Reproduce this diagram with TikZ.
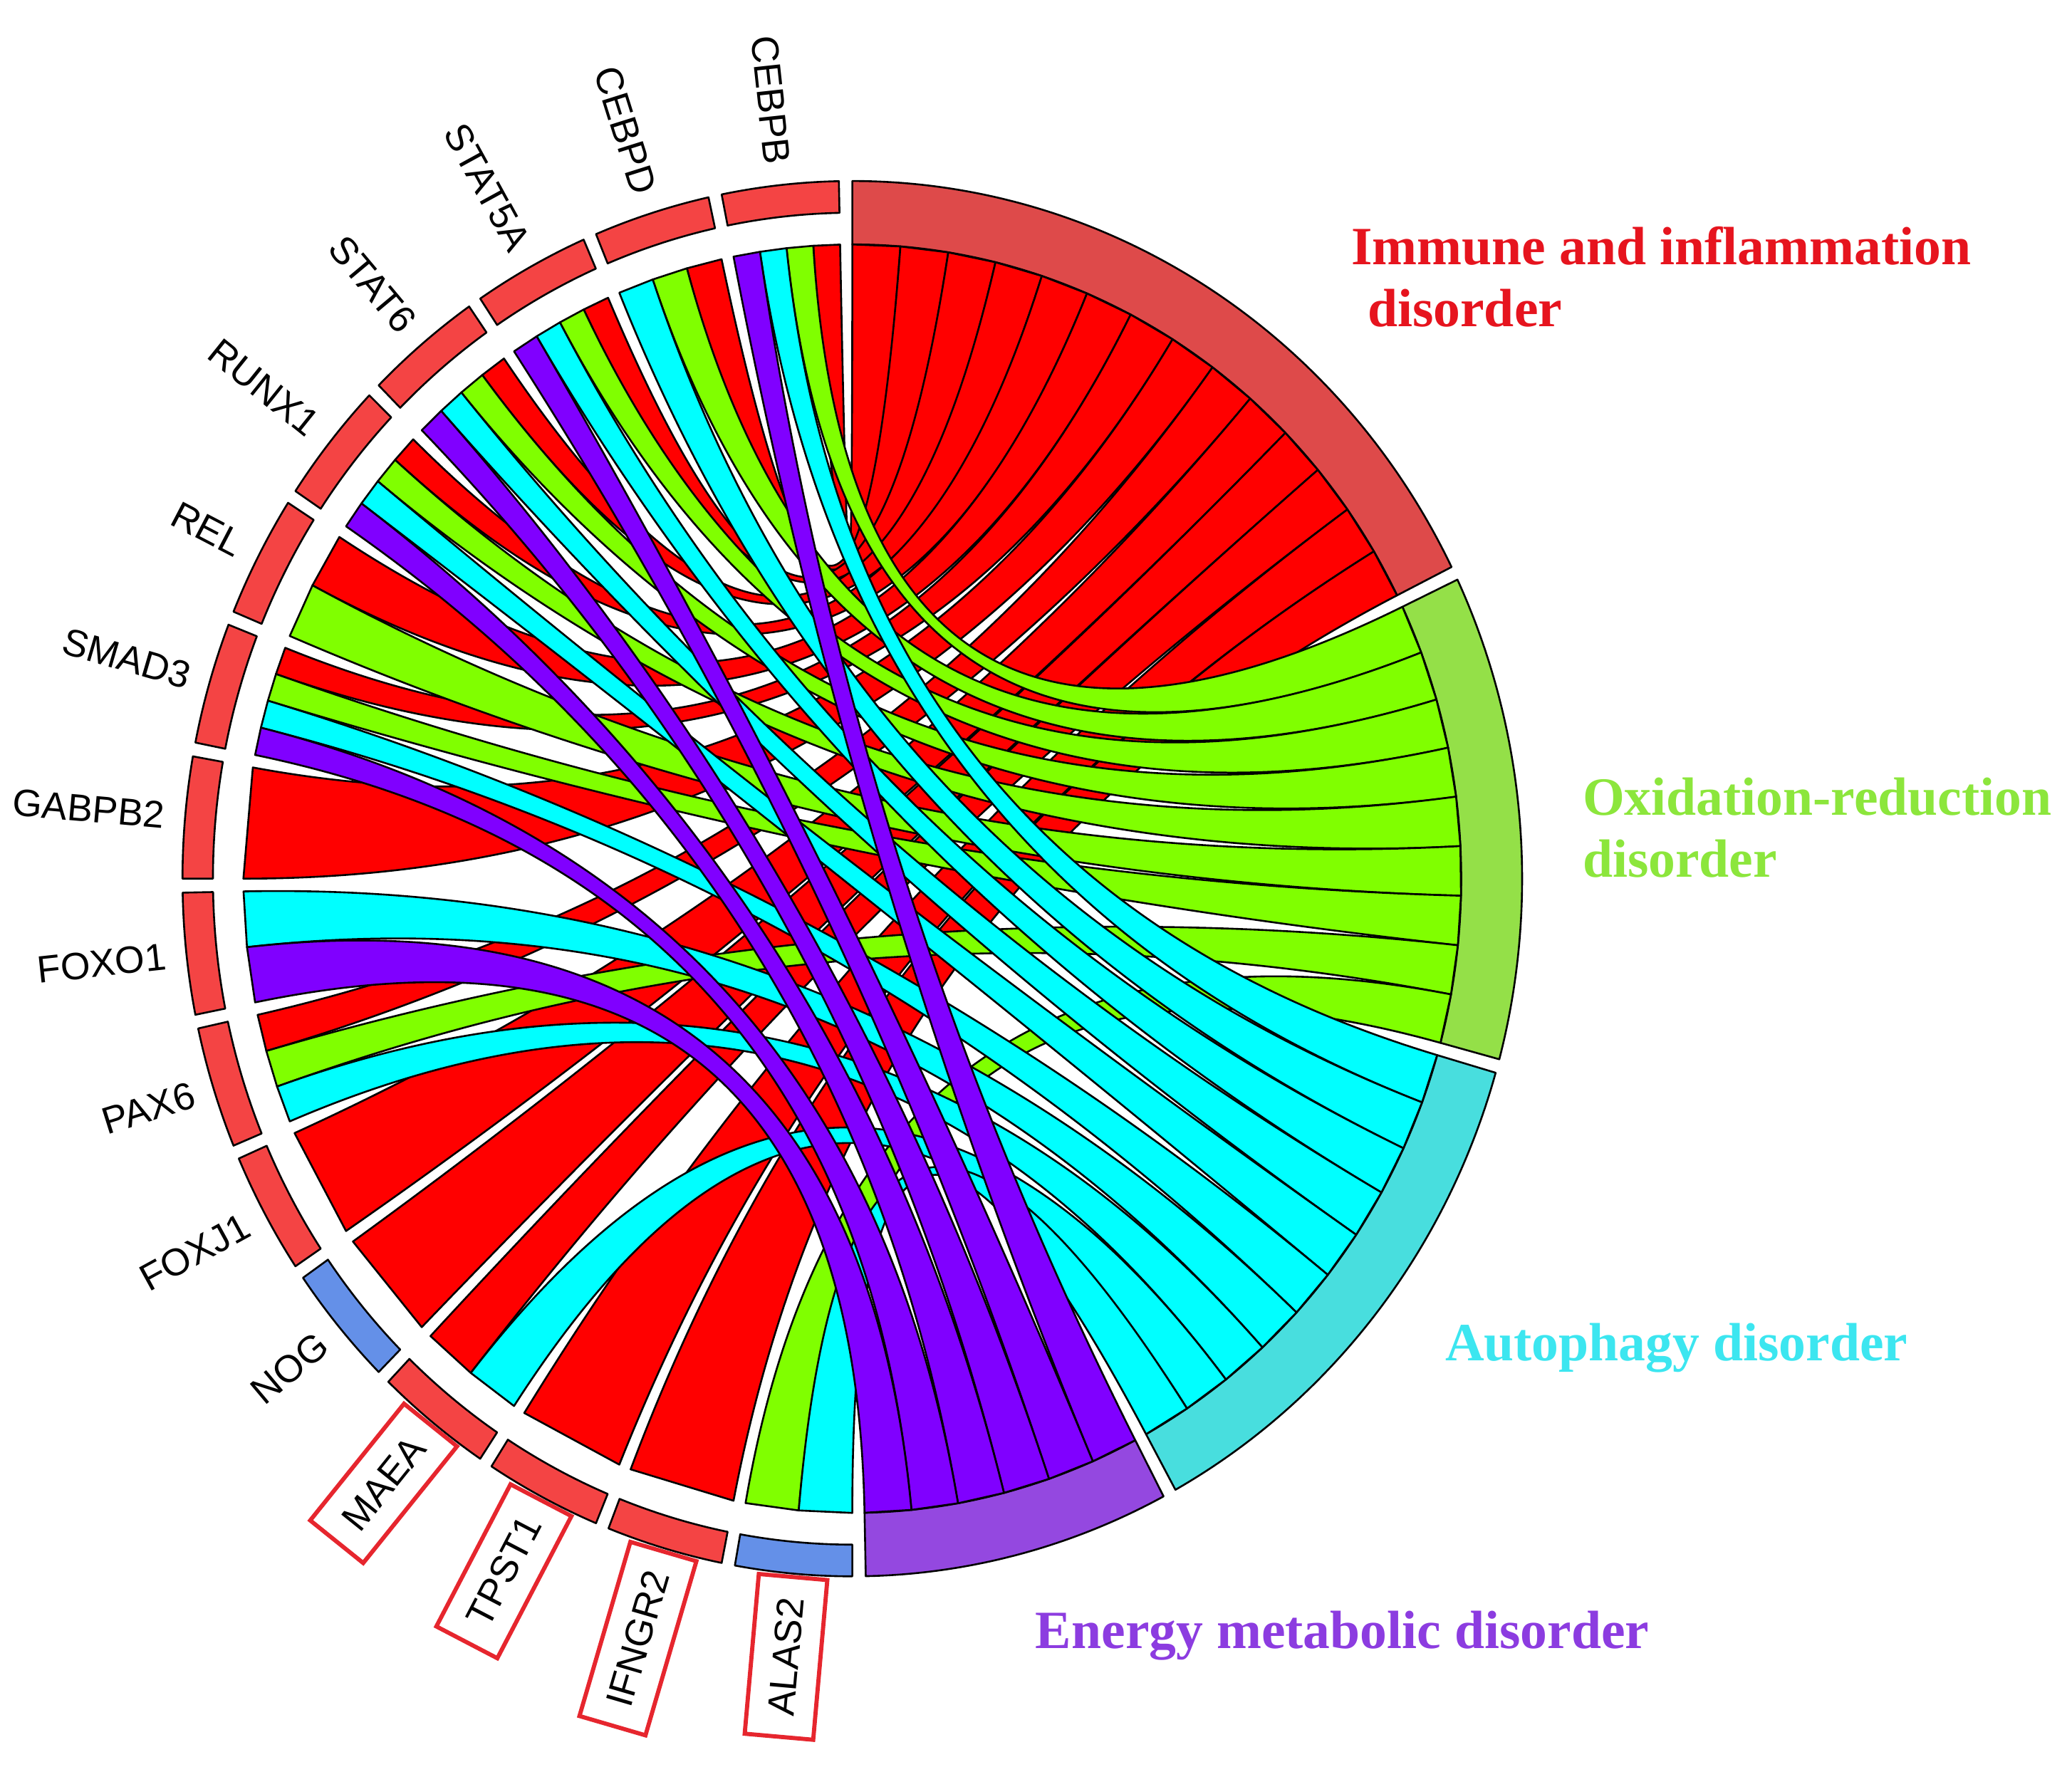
\documentclass[tikz,border=0pt]{standalone}
\usepackage{fontspec}
\setmainfont{Liberation Serif}
\setsansfont{Liberation Sans}
\usepackage{xcolor}
\definecolor{Chord Red}{HTML}{FF0000}
\definecolor{Chord Green}{HTML}{80FF00}
\definecolor{Chord Cyan}{HTML}{00FFFF}
\definecolor{Chord Violet}{HTML}{8000FF}
\colorlet{cImm}{Chord Red}
\colorlet{cOx}{Chord Green}
\colorlet{cAut}{Chord Cyan}
\colorlet{cEn}{Chord Violet}
\definecolor{sImm}{HTML}{DE4A4A}
\definecolor{sOx}{HTML}{94E048}
\definecolor{sAut}{HTML}{48DEDE}
\definecolor{sEn}{HTML}{9448E0}
\definecolor{cUp}{HTML}{F44444}
\definecolor{cDown}{HTML}{6490E8}
\definecolor{cBox}{HTML}{E6262E}
\definecolor{tImm}{HTML}{E6141E}
\definecolor{tOx}{HTML}{8CE63C}
\definecolor{tAut}{HTML}{3CE6F0}
\definecolor{tEn}{HTML}{8C3CE0}
\usepackage{tikz}
\usetikzlibrary{positioning}
\tikzset{
	line width = .6pt,
	ribbon/.style={
		draw=black,
		line join=round
	},
	segment/.style={
		draw=black,
		line join=round
	},
	genelabel/.style={
		font=\sffamily\fontsize{8.2}{9}\selectfont,
		anchor=east,
		inner sep=1pt,
		line width=.9pt
	},
	termlabel/.style={
		font=\rmfamily\bfseries\fontsize{11.6}{13.4}\selectfont,
		align=left,
		anchor=west,
		inner sep=0pt
	}
}
\def\rin{4.8cm}
\def\rgene{5.04cm}
\def\rout{5.28cm}
\def\rc{1.6cm}
\def\sgap{1.15}
% #1 colour, #2 first angle of the term, #3 band width on the term,
% #4 band number on the term, #5 gene number, #6 band on the gene, #7 bands of the gene
\newcommand{\chordband}[7]{%
	\pgfmathsetmacro\pa{#2-(#4-1)*#3}%
	\pgfmathsetmacro\pb{#2-#4*#3}%
	\pgfmathsetmacro\ga{90+\sgap+(#5-1)*11.25+(#6-1)*(11.25-\sgap)/#7}%
	\pgfmathsetmacro\gb{90+\sgap+(#5-1)*11.25+#6*(11.25-\sgap)/#7}%
	\draw[ribbon, fill=#1] (\pa:\rin) .. controls (\pa:\rc) and (\ga:\rc) .. (\ga:\rin)
		-- (\gb:\rin) .. controls (\gb:\rc) and (\pb:\rc) .. (\pb:\rin) -- cycle;}

\begin{document}
\begin{tikzpicture}
		\useasboundingbox (-6.45,-6.72) rectangle (9.23,6.65);
		\begin{scope}[xscale=0.96]
		\foreach \ta/\tb/\col in {26.535/90/sImm, -15.003/25.385/sOx, -61.158/-16.154/sAut, -88.85/-62.308/sEn}
			\draw[segment, fill=\col] (\ta:\rin) arc[start angle=\ta, end angle=\tb, radius=\rin]
				-- (\tb:\rout) arc[start angle=\tb, end angle=\ta, radius=\rout] -- cycle;

		\foreach \gname/\col/\bx/\isep/\rl [count=\s] in {CEBPB/cUp/none/1pt/5.39cm, CEBPD/cUp/none/1pt/5.39cm,
				STAT5A/cUp/none/1pt/5.39cm, STAT6/cUp/none/1pt/5.39cm, RUNX1/cUp/none/1pt/5.39cm,
				REL/cUp/none/1pt/5.39cm, SMAD3/cUp/none/1pt/5.39cm, GABPB2/cUp/none/1pt/5.39cm,
				FOXO1/cUp/none/1pt/5.39cm, PAX6/cUp/none/1pt/5.39cm, FOXJ1/cUp/none/1pt/5.39cm,
				NOG/cDown/none/1pt/5.39cm, MAEA/cUp/cBox/4.5pt/5.29cm, TPST1/cUp/cBox/4.5pt/5.29cm,
				IFNGR2/cUp/cBox/4.5pt/5.29cm, ALAS2/cDown/cBox/4.5pt/5.29cm} {
			\pgfmathsetmacro\ga{90+\sgap+(\s-1)*11.25}
			\pgfmathsetmacro\gb{\ga+11.25-\sgap}
			\pgfmathsetmacro\gm{(\ga+\gb)/2}
			\draw[segment, fill=\col] (\ga:\rgene) arc[start angle=\ga, end angle=\gb, radius=\rgene]
				-- (\gb:\rout) arc[start angle=\gb, end angle=\ga, radius=\rout] -- cycle;
			\node[genelabel, draw=\bx, inner sep=\isep, rotate=\gm-180] (g\s) at (\gm:\rl) {\gname};
		}

		\foreach \s/\k/\n [count=\m] in {1/1/4, 2/1/3, 3/1/4, 4/1/4, 5/1/4, 6/1/2, 7/1/4, 8/1/1, 10/1/3, 11/1/1, 12/1/1, 13/1/2, 14/1/1, 15/1/1}
			{\chordband{cImm}{90}{4.53324}{\m}{\s}{\k}{\n}}
		\foreach \s/\k/\n [count=\m] in {1/2/4, 2/2/3, 3/2/4, 4/2/4, 5/2/4, 6/2/2, 7/2/4, 10/2/3, 16/1/2}
			{\chordband{cOx}{25.3846}{4.48761}{\m}{\s}{\k}{\n}}
		\foreach \s/\k/\n [count=\m] in {1/3/4, 2/3/3, 3/3/4, 4/3/4, 5/3/4, 7/3/4, 9/1/2, 10/3/3, 13/2/2, 16/2/2}
			{\chordband{cAut}{-16.1538}{4.50038}{\m}{\s}{\k}{\n}}
		\foreach \s/\k/\n [count=\m] in {1/4/4, 3/4/4, 4/4/4, 5/4/4, 7/4/4, 9/2/2}
			{\chordband{cEn}{-62.3077}{4.42372}{\m}{\s}{\k}{\n}}
		\end{scope}

		\node[termlabel, text=tImm] (immune) at (3.77,4.555) {Immune and inflammation\\\hspace*{.3em}disorder};
		\node[termlabel, text=tOx] (redox) at (5.52,0.385) {Oxidation-reduction\\disorder};
		\node[termlabel, text=tAut] (autophagy) at (4.48,-3.55) {Autophagy disorder};
		\node[termlabel, text=tEn] (energy) at (1.38,-5.73) {Energy metabolic disorder};
	\end{tikzpicture}
\end{document}
